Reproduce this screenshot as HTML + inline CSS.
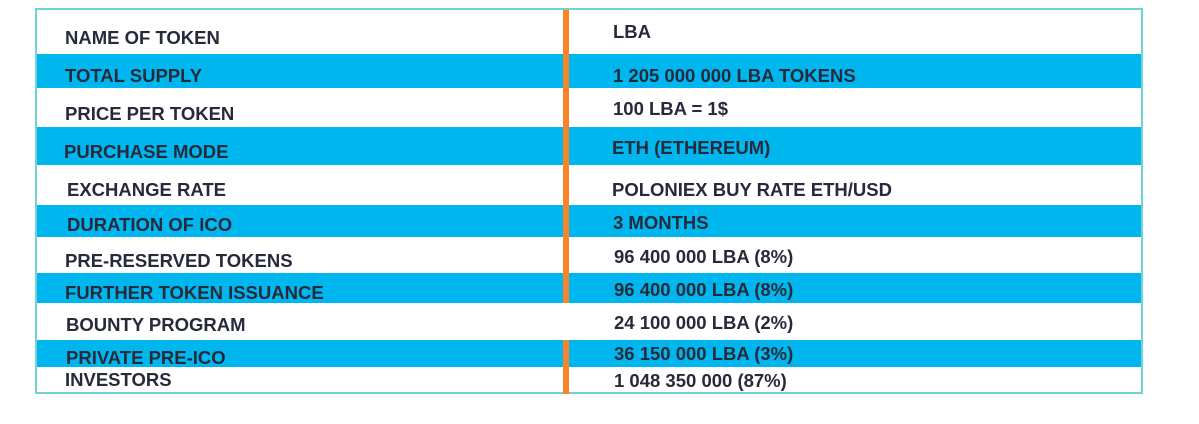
<!DOCTYPE html>
<html><head><meta charset="utf-8"><style>
body{margin:0;background:#fff;width:1199px;height:424px;overflow:hidden;position:relative;font-family:"Liberation Sans",sans-serif;}
.frame{position:absolute;left:35px;top:8px;width:1108px;height:386px;border:2px solid #6fd3d6;box-sizing:border-box;}
.band{position:absolute;left:37px;width:1104px;background:#00b6ef;}
.orange{position:absolute;left:563px;width:6px;background:#f98428;}
.t{position:absolute;font-weight:bold;font-size:18.5px;color:#262a3a;white-space:nowrap;transform:translateY(-50%);letter-spacing:0px;}
</style></head><body>
<div class="frame"></div>
<div class="band" style="top:54px;height:34px"></div>
<div class="band" style="top:127px;height:38px"></div>
<div class="band" style="top:205px;height:32px"></div>
<div class="band" style="top:273px;height:30px"></div>
<div class="band" style="top:340px;height:27px"></div>
<div class="orange" style="top:10px;height:293px"></div>
<div class="orange" style="top:340px;height:54px"></div>

<div class="t" style="left:65px;top:38px">NAME OF TOKEN</div>
<div class="t" style="left:65px;top:76px">TOTAL SUPPLY</div>
<div class="t" style="left:65px;top:114px">PRICE PER TOKEN</div>
<div class="t" style="left:64px;top:152px">PURCHASE MODE</div>
<div class="t" style="left:67px;top:190px">EXCHANGE RATE</div>
<div class="t" style="left:67px;top:225px">DURATION OF ICO</div>
<div class="t" style="left:65px;top:261px">PRE-RESERVED TOKENS</div>
<div class="t" style="left:65px;top:293px">FURTHER TOKEN ISSUANCE</div>
<div class="t" style="left:66px;top:325px">BOUNTY PROGRAM</div>
<div class="t" style="left:66px;top:358px">PRIVATE PRE-ICO</div>
<div class="t" style="left:65px;top:380px">INVESTORS</div>

<div class="t" style="left:613px;top:32px">LBA</div>
<div class="t" style="left:613px;top:76px">1 205 000 000 LBA TOKENS</div>
<div class="t" style="left:613px;top:109px">100 LBA = 1$</div>
<div class="t" style="left:612px;top:148px">ETH (ETHEREUM)</div>
<div class="t" style="left:612px;top:190px">POLONIEX BUY RATE ETH/USD</div>
<div class="t" style="left:613px;top:223px">3 MONTHS</div>
<div class="t" style="left:614px;top:257px">96 400 000 LBA (8%)</div>
<div class="t" style="left:614px;top:290px">96 400 000 LBA (8%)</div>
<div class="t" style="left:614px;top:323px">24 100 000 LBA (2%)</div>
<div class="t" style="left:614px;top:354px">36 150 000 LBA (3%)</div>
<div class="t" style="left:614px;top:381px">1 048 350 000 (87%)</div>
</body></html>
